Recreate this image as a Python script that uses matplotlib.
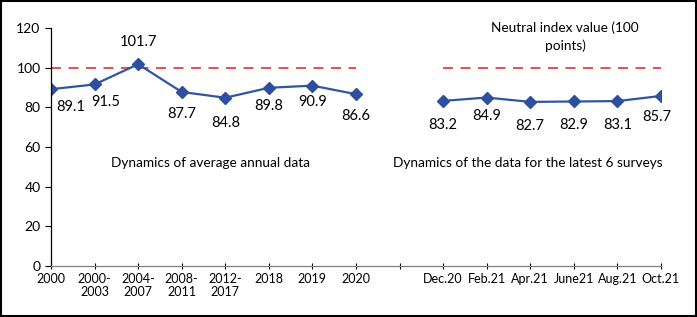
import numpy as np
import matplotlib.pyplot as plt

# -----------------------
# Данные
# -----------------------
categories = ["2000", "2000-\n2003", "2004-\n2007", "2008-\n2011", "2012-\n2017",
              "2018", "2019", "2020", "",
              "Dec.20", "Feb.21", "Apr.21", "June21", "Aug.21", "Oct.21"]
values = [89.1, 91.5, 101.7, 87.7, 84.8, 89.8, 90.9, 86.6, np.nan,
          83.2, 84.9, 82.7, 82.9, 83.1, 85.7]
neutral = [100] * 8 + [np.nan] + [100] * 6

# смещения подписей (пункты)
label_offsets = [(14, -13), (8, -13), (0, 16), (0, -16), (0, -18), (0, -13), (0, -12), (0, -16), None,
                 (0, -17), (0, -13), (0, -17), (0, -17), (0, -17), (-3, -15)]

plt.rcParams['font.family'] = ['Lato', 'DejaVu Sans']

fig = plt.figure(figsize=(6.97, 3.17), dpi=100)
ax = fig.add_axes([0.0732, 0.161, 0.875, 0.751])

x = np.arange(len(categories))
ax.plot(x, neutral, color='#E0303A', lw=1.2, dashes=(6, 4.5))
ax.plot(x, values, color='#2F55A4', lw=1.6, marker='D', ms=6.5,
        mfc='#2E4E9E', mec='#2E4E9E')

for xi, v, off in zip(x, values, label_offsets):
    if off is None:
        continue
    ax.annotate(f"{v:.1f}", (xi, v), xytext=off, textcoords='offset points',
                ha='center', va='center', fontsize=10.5)

ax.text(3.65, 52, "Dynamics of average annual data", ha='center', va='center', fontsize=9.8)
ax.text(10.95, 52, "Dynamics of the data for the latest 6 surveys", ha='center', va='center', fontsize=9.8)
ax.text(11.8, 115.5, "Neutral index value (100\npoints)", ha='center', va='center',
        fontsize=9.8, linespacing=1.45)

ax.set_xlim(0, 14)
ax.set_ylim(0, 120)
ax.set_yticks(range(0, 121, 20))
ax.set_xticks(x)
ax.set_xticklabels(categories, fontsize=9, linespacing=1.1)
ax.tick_params(axis='y', labelsize=10, length=4, width=0.8)
ax.tick_params(axis='x', length=4, width=0.8, direction='inout', pad=3)

for s in ['top', 'right']:
    ax.spines[s].set_visible(False)
ax.spines['left'].set_color('black')
ax.spines['bottom'].set_color('#808080')
ax.spines['left'].set_linewidth(0.9)
ax.spines['bottom'].set_linewidth(0.9)

# рамка вокруг рисунка
fig.patches.append(plt.Rectangle((0.002, 0.003), 0.996, 0.994, transform=fig.transFigure,
                                 fill=False, edgecolor='black', lw=1.5))

fig.savefig("out.png", dpi=100)
